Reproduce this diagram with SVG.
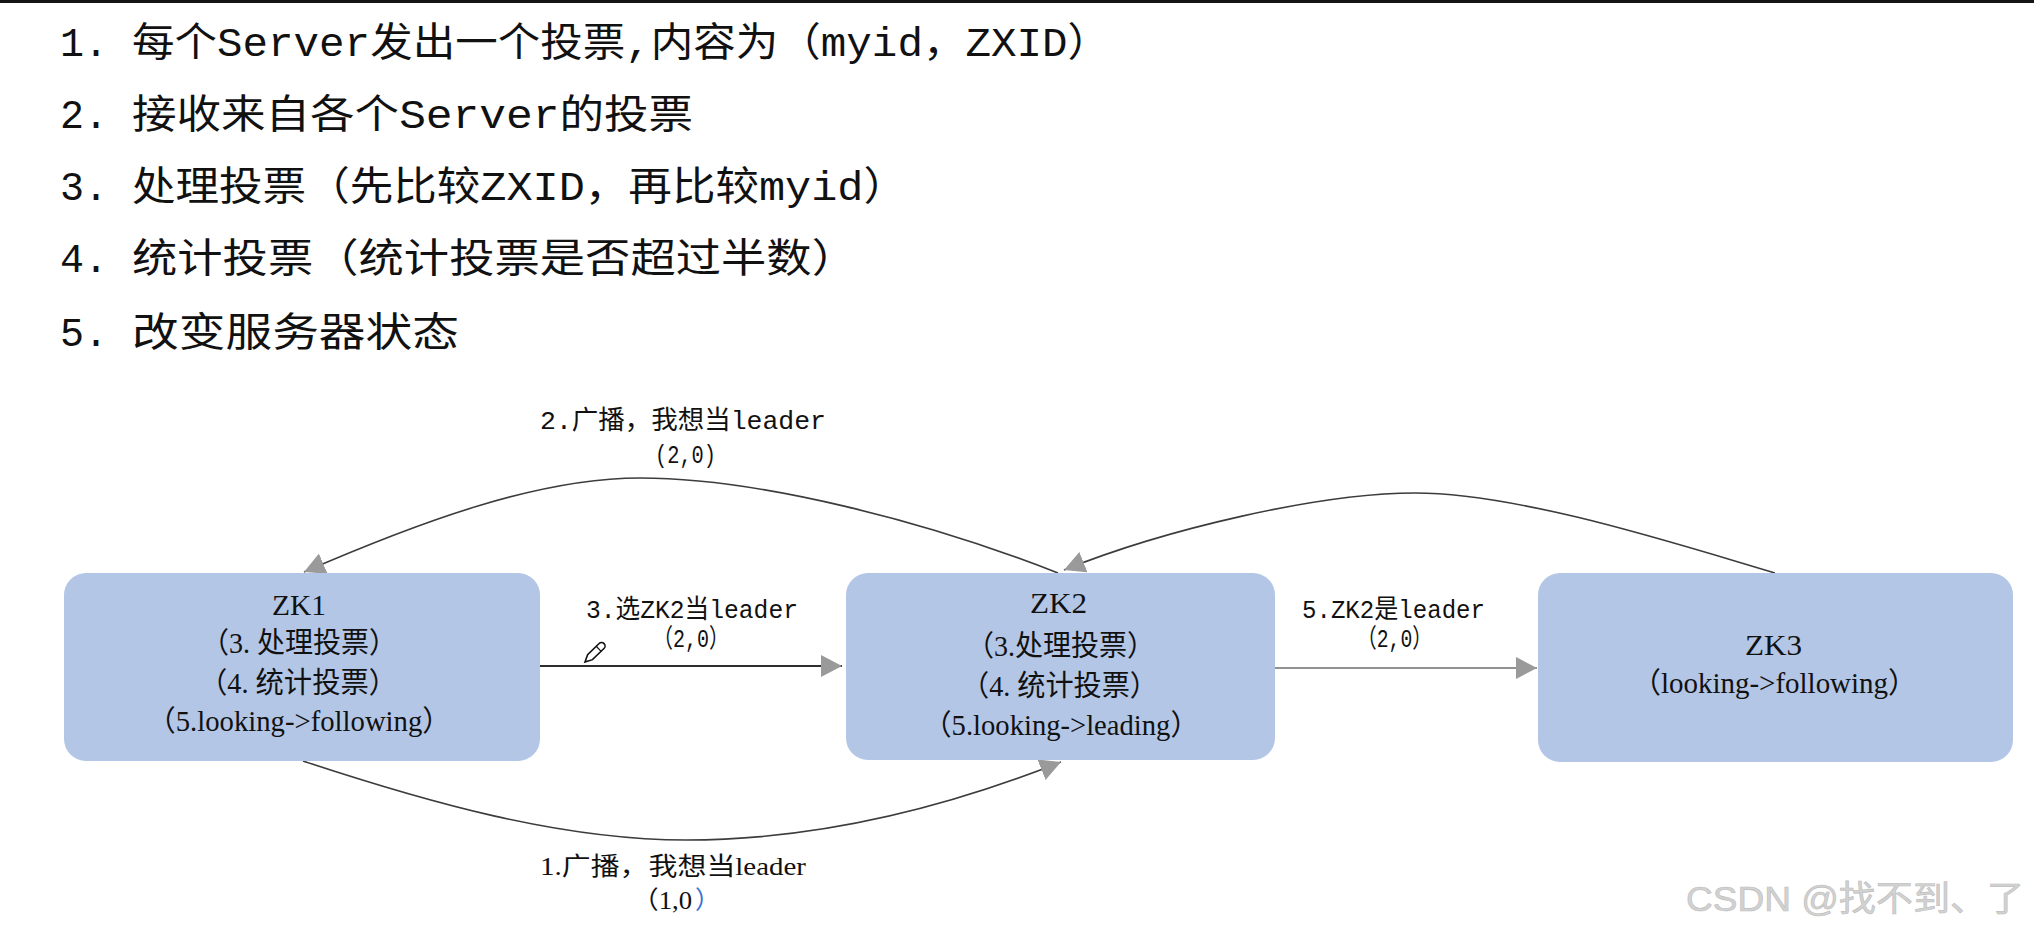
<svg xmlns="http://www.w3.org/2000/svg" width="2034" height="932" viewBox="0 0 2034 932">
<style>
.list{font-family:"Liberation Mono","Noto Sans CJK SC",monospace;font-size:40px;fill:#111}
.lbl{font-family:"Liberation Mono","Noto Sans CJK SC",monospace;font-size:26px;fill:#111}
.lbls{font-family:"Liberation Serif","Noto Sans CJK SC",serif;font-size:25px;fill:#111}
.blue{fill:#3a6fd8}
.nt{font-family:"Liberation Serif","Noto Sans CJK SC",serif;font-size:29px;fill:#111}
.box{fill:#b3c6e6}
.cv{fill:none;stroke:#3c3c3c;stroke-width:1.6}
.wm{font-family:"Liberation Sans","Noto Sans CJK SC",sans-serif;font-size:35px;fill:#d2d2d2;stroke:#bdbdbd;stroke-width:0.6}
</style>
<defs>
<marker id="ah" viewBox="0 0 21 22" refX="21" refY="11" markerWidth="21" markerHeight="22" markerUnits="userSpaceOnUse" orient="auto">
<path d="M0,0 L21,11 L0,22 Z" fill="#9a9a9a"/>
</marker>
</defs>
<rect width="2034" height="932" fill="#ffffff"/>
<rect x="0" y="0" width="2034" height="3" fill="#151515"/>

<g id="steps">
<text class="list" x="60" y="56">1.</text>
<text class="list" x="132" y="56" textLength="978" lengthAdjust="spacingAndGlyphs">每个Server发出一个投票,内容为（myid，ZXID）</text>
<text class="list" x="60" y="128">2.</text>
<text class="list" x="132" y="128" textLength="561" lengthAdjust="spacingAndGlyphs">接收来自各个Server的投票</text>
<text class="list" x="60" y="200">3.</text>
<text class="list" x="132" y="200" textLength="775" lengthAdjust="spacingAndGlyphs">处理投票（先比较ZXID，再比较myid）</text>
<text class="list" x="60" y="272">4.</text>
<text class="list" x="132" y="272" textLength="725" lengthAdjust="spacingAndGlyphs">统计投票（统计投票是否超过半数）</text>
<text class="list" x="60" y="346">5.</text>
<text class="list" x="132" y="346" textLength="327" lengthAdjust="spacingAndGlyphs">改变服务器状态</text>
</g>

<g id="connectors">
<path class="cv" d="M1058,573 C928,522 760,478 640,478 C540,478 424,520 304,572" marker-end="url(#ah)"/>
<path class="cv" d="M1775,573 C1680,545 1520,493 1415,493 C1320,493 1166,529 1064,570" marker-end="url(#ah)"/>
<path class="cv" d="M303,761 C427,802 560,840 686,840 C815,840 945,808 1061,762" marker-end="url(#ah)"/>
<path d="M540,666 L842,666" fill="none" stroke="#2e2e2e" stroke-width="2" marker-end="url(#ah)"/>
<path d="M1275,668 L1537,668" fill="none" stroke="#6e6e6e" stroke-width="1.6" marker-end="url(#ah)"/>
<text class="lbl" x="540" y="429" textLength="286" lengthAdjust="spacingAndGlyphs">2.广播，我想当leader</text>
<text class="lbl" x="655" y="463" textLength="61" lengthAdjust="spacingAndGlyphs">(2,0)</text>
<text class="lbl" x="586" y="618" textLength="212" lengthAdjust="spacingAndGlyphs">3.选ZK2当leader</text>
<text class="lbl" x="653" y="647" textLength="76" lengthAdjust="spacingAndGlyphs">（2,0）</text>
<text class="lbl" x="1302" y="618" textLength="183" lengthAdjust="spacingAndGlyphs">5.ZK2是leader</text>
<text class="lbl" x="1357" y="647" textLength="75" lengthAdjust="spacingAndGlyphs">（2,0）</text>
<text class="lbls" x="540" y="875" textLength="266" lengthAdjust="spacingAndGlyphs">1.广播，我想当leader</text>
<text class="lbls" x="632" y="909" textLength="60" lengthAdjust="spacingAndGlyphs">（1,0</text>
<text class="lbls blue" x="695" y="909">）</text>
</g>

<g id="pencil" transform="translate(585,662) rotate(-44)">
<path d="M0,0 L7,-3.5 L23,-3.5 A3.5,3.5 0 0 1 23,3.5 L7,3.5 Z" fill="#ffffff" stroke="#111" stroke-width="1.6"/>
<path d="M19,-3.5 L19,3.5" stroke="#111" stroke-width="1.2"/>
</g>

<g id="ZK1">
<rect class="box" x="64" y="573" width="476" height="188" rx="22" ry="22"/>
<text class="nt" x="272" y="615" textLength="54" lengthAdjust="spacingAndGlyphs">ZK1</text>
<text class="nt" x="201" y="653" textLength="196" lengthAdjust="spacingAndGlyphs">（3. 处理投票）</text>
<text class="nt" x="199" y="693" textLength="198" lengthAdjust="spacingAndGlyphs">（4. 统计投票）</text>
<text class="nt" x="147" y="731" textLength="304" lengthAdjust="spacingAndGlyphs">（5.looking-&gt;following）</text>
</g>

<g id="ZK2">
<rect class="box" x="846" y="573" width="429" height="187" rx="22" ry="22"/>
<text class="nt" x="1030" y="613" textLength="57" lengthAdjust="spacingAndGlyphs">ZK2</text>
<text class="nt" x="966" y="656" textLength="189" lengthAdjust="spacingAndGlyphs">（3.处理投票）</text>
<text class="nt" x="961" y="696" textLength="197" lengthAdjust="spacingAndGlyphs">（4. 统计投票）</text>
<text class="nt" x="923" y="735" textLength="276" lengthAdjust="spacingAndGlyphs">（5.looking-&gt;leading）</text>
</g>

<g id="ZK3">
<rect class="box" x="1538" y="573" width="475" height="189" rx="22" ry="22"/>
<text class="nt" x="1745" y="655" textLength="57" lengthAdjust="spacingAndGlyphs">ZK3</text>
<text class="nt" x="1632" y="693" textLength="285" lengthAdjust="spacingAndGlyphs">（looking-&gt;following）</text>
</g>

<text class="wm" x="1686" y="911" textLength="338" lengthAdjust="spacingAndGlyphs">CSDN @找不到、了</text>
</svg>
